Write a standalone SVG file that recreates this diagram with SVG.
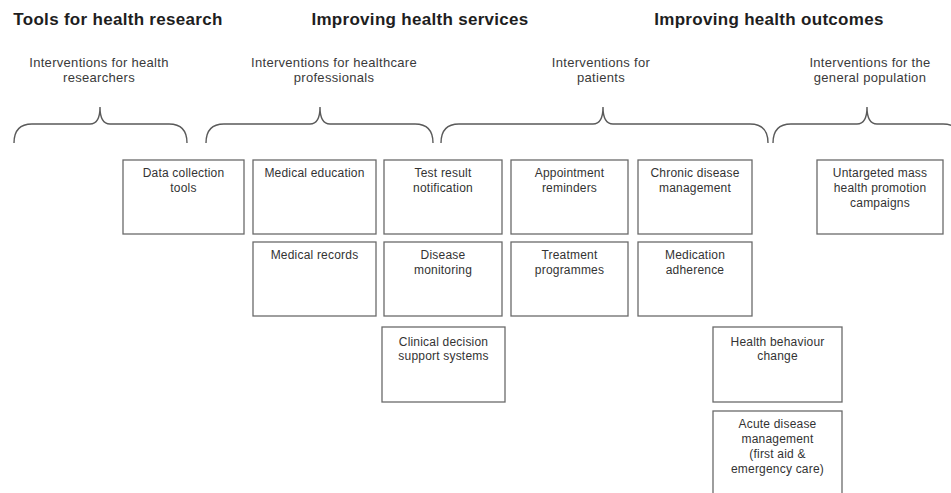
<svg xmlns="http://www.w3.org/2000/svg" width="951" height="493" viewBox="0 0 951 493">
  <style>
    .title { font-family: "Liberation Sans", Arial, sans-serif; font-size: 17px; font-weight: bold; fill: #1e1e1e; text-anchor: middle; letter-spacing: 0.3px; }
    .sub { font-family: "Liberation Sans", Arial, sans-serif; font-size: 13px; fill: #3a3a3a; text-anchor: middle; letter-spacing: 0.3px; }
    .label { font-family: "Liberation Sans", Arial, sans-serif; font-size: 12px; fill: #333; text-anchor: middle; letter-spacing: 0.2px; }
    .box { fill: #fff; stroke: #6a6a6a; stroke-width: 1.3; }
    .brace { fill: none; stroke: #5a5a5a; stroke-width: 1.4; }
  </style>
  <rect x="0" y="0" width="951" height="493" fill="#fff"/>

  <!-- section headings -->
  <g id="headings">
    <text class="title" x="118" y="25">Tools for health research</text>
    <text class="title" x="420" y="25">Improving health services</text>
    <text class="title" x="769" y="25">Improving health outcomes</text>
  </g>

  <!-- audience labels -->
  <g id="audiences">
    <text class="sub" x="99" y="67">Interventions for health</text>
    <text class="sub" x="99" y="82">researchers</text>
    <text class="sub" x="334" y="67">Interventions for healthcare</text>
    <text class="sub" x="334" y="82">professionals</text>
    <text class="sub" x="601" y="67">Interventions for</text>
    <text class="sub" x="601" y="82">patients</text>
    <text class="sub" x="870" y="67">Interventions for the</text>
    <text class="sub" x="870" y="82">general population</text>
  </g>

  <!-- curly braces grouping the categories -->
  <g id="connectors">
    <path class="brace" d="M14,143 C14,131 20,124 32,124 L90,124 C97,124 100,117 100,107 C100,117 103,124 110,124 L169,124 C181,124 187,131 187,143"/>
    <path class="brace" d="M206,143 C206,131 212,124 224,124 L310,124 C317,124 320,117 320,107 C320,117 323,124 330,124 L415,124 C427,124 433,131 433,143"/>
    <path class="brace" d="M441,143 C441,131 447,124 459,124 L593,124 C600,124 603,117 603,107 C603,117 606,124 613,124 L750,124 C762,124 768,131 768,143"/>
    <path class="brace" d="M773,143 C773,131 779,124 791,124 L857,124 C864,124 867,117 867,107 C867,117 870,124 877,124 L943,124 C955,124 961,131 961,143"/>
  </g>

  <!-- intervention boxes -->
  <g id="data-collection">
    <rect class="box" x="123" y="160" width="121" height="74"/>
    <text class="label" x="183.5" y="177">Data collection</text>
    <text class="label" x="183.5" y="192">tools</text>
  </g>
  <g id="medical-education">
    <rect class="box" x="253" y="160" width="123" height="74"/>
    <text class="label" x="314.5" y="177">Medical education</text>
  </g>
  <g id="test-result">
    <rect class="box" x="384" y="160" width="118" height="74"/>
    <text class="label" x="443" y="177">Test result</text>
    <text class="label" x="443" y="192">notification</text>
  </g>
  <g id="appointment-reminders">
    <rect class="box" x="511" y="160" width="117" height="74"/>
    <text class="label" x="569.5" y="177">Appointment</text>
    <text class="label" x="569.5" y="192">reminders</text>
  </g>
  <g id="chronic-disease">
    <rect class="box" x="638" y="160" width="114" height="74"/>
    <text class="label" x="695" y="177">Chronic disease</text>
    <text class="label" x="695" y="192">management</text>
  </g>
  <g id="mass-campaigns">
    <rect class="box" x="817" y="160" width="126" height="74"/>
    <text class="label" x="880" y="177">Untargeted mass</text>
    <text class="label" x="880" y="192">health promotion</text>
    <text class="label" x="880" y="207">campaigns</text>
  </g>
  <g id="medical-records">
    <rect class="box" x="253" y="242" width="123" height="74"/>
    <text class="label" x="314.5" y="259">Medical records</text>
  </g>
  <g id="disease-monitoring">
    <rect class="box" x="384" y="242" width="118" height="74"/>
    <text class="label" x="443" y="259">Disease</text>
    <text class="label" x="443" y="274">monitoring</text>
  </g>
  <g id="treatment-programmes">
    <rect class="box" x="511" y="242" width="117" height="74"/>
    <text class="label" x="569.5" y="259">Treatment</text>
    <text class="label" x="569.5" y="274">programmes</text>
  </g>
  <g id="medication-adherence">
    <rect class="box" x="638" y="242" width="114" height="74"/>
    <text class="label" x="695" y="259">Medication</text>
    <text class="label" x="695" y="274">adherence</text>
  </g>
  <g id="clinical-decision">
    <rect class="box" x="382" y="327" width="123" height="75"/>
    <text class="label" x="443.5" y="346">Clinical decision</text>
    <text class="label" x="443.5" y="360">support systems</text>
  </g>
  <g id="behaviour-change">
    <rect class="box" x="713" y="327" width="129" height="75"/>
    <text class="label" x="777.5" y="346">Health behaviour</text>
    <text class="label" x="777.5" y="360">change</text>
  </g>
  <g id="acute-disease">
    <rect class="box" x="713" y="411" width="129" height="85"/>
    <text class="label" x="777.5" y="428">Acute disease</text>
    <text class="label" x="777.5" y="443">management</text>
    <text class="label" x="777.5" y="458">(first aid &amp;</text>
    <text class="label" x="777.5" y="473">emergency care)</text>
  </g>
</svg>
